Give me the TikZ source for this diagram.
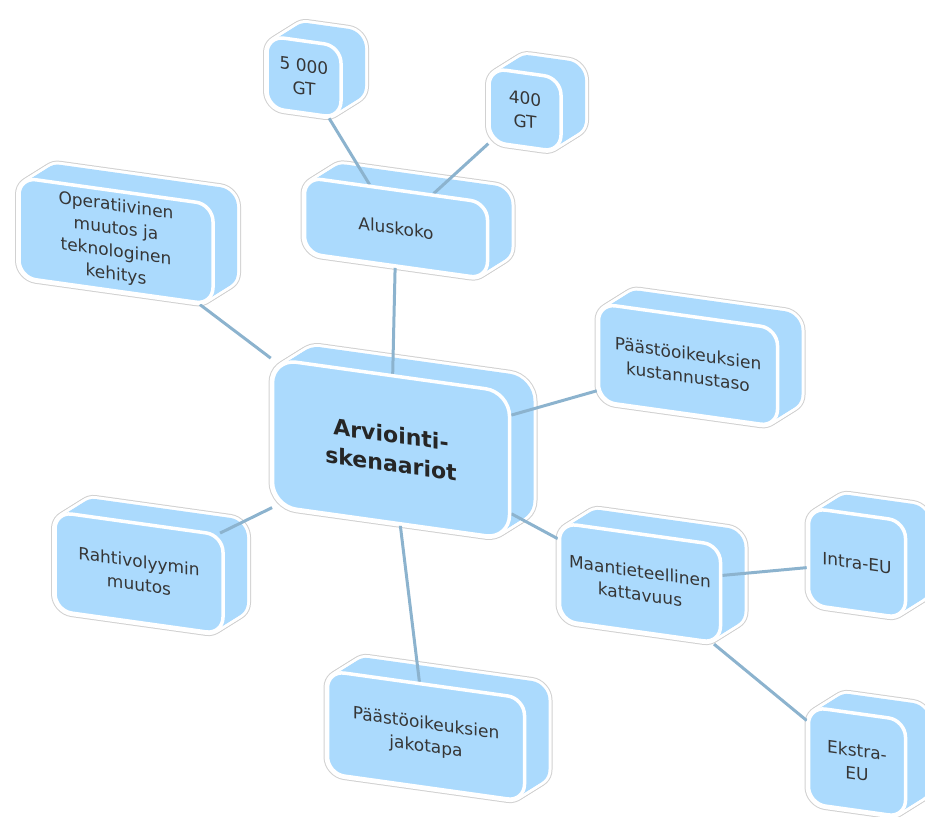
\documentclass[tikz,border=0pt]{standalone}
\usepackage{fontspec}
\setmainfont{DejaVu Sans}
\definecolor{boxblue}{HTML}{ABDAFD}
\definecolor{linkblue}{HTML}{8CB3CE}
\definecolor{labelgray}{HTML}{363636}
\pgfdeclarelayer{ext}
\pgfdeclarelayer{face}
\pgfsetlayers{ext,main,face}
\tikzset{
 slab/.style={rectangle,rounded corners=17pt,yslant=-0.14,inner sep=0pt},
 face/.style={slab,fill=boxblue,draw=white,line width=3.5pt,align=center,
              text=labelgray,font=\fontsize{17}{23}\selectfont},
 hub/.style={rounded corners=24pt,text=black!85,
             font=\fontsize{22}{29}\selectfont\bfseries},
 link/.style={draw=linkblue,line width=3pt}
}
% extruded box: [extra style] name, x, y, width, height, label
\newcommand\ebox[7][]{%
 \begin{pgfonlayer}{ext}
  \foreach \k in {0,...,12}
   \node[slab,#1,draw=black!18,line width=8pt,minimum width=#5pt,minimum height=#6pt]
    at ({#3+2*\k},{#4-1.25*\k}) {};
  \foreach \k in {0,...,12}
   \node[slab,#1,draw=white,line width=6pt,minimum width=#5pt,minimum height=#6pt]
    at ({#3+2*\k},{#4-1.25*\k}) {};
  \foreach \k in {0,...,12}
   \node[slab,#1,fill=boxblue,minimum width=#5pt,minimum height=#6pt]
    at ({#3+2*\k},{#4-1.25*\k}) {};
 \end{pgfonlayer}
 \begin{pgfonlayer}{face}
  \node[face,#1,minimum width=#5pt,minimum height=#6pt] (#2) at (#3,#4) {#7};
 \end{pgfonlayer}
}
\begin{document}
\begin{tikzpicture}[x=1pt,y=-1pt]
 \useasboundingbox (0,0) rectangle (925,816);
 \ebox[hub]{hub}{391}{449}{237}{147}{Arviointi-\\skenaariot}
 \ebox{alus}{396}{228}{183}{76}{Aluskoko}
 \ebox{gtbig}{304}{77}{74}{72}{5 000\\GT}
 \ebox{gtsmall}{525}{110}{72}{74}{400\\GT}
 \ebox{oper}{116}{241}{194}{100}{Operatiivinen\\muutos ja\\teknologinen\\kehitys}
 \ebox{kust}{688}{365}{179}{98}{Päästöoikeuksien\\kustannustaso}
 \ebox{raht}{139}{573}{168}{99}{Rahtivolyymin\\muutos}
 \ebox{maan}{640}{583}{161}{98}{Maantieteellinen\\kattavuus}
 \ebox{jako}{426}{736}{197}{103}{Päästöoikeuksien\\jakotapa}
 \ebox{intra}{857}{563}{97}{97}{Intra-EU}
 \ebox{ekstra}{857}{762}{97}{97}{Ekstra-\\EU}
 \foreach \a/\b in {alus/hub,alus/gtbig,alus/gtsmall,oper/hub,kust/hub,
                    raht/hub,jako/hub,maan/hub,maan/intra,maan/ekstra}
  \draw[link] (\a) -- (\b);
\end{tikzpicture}
\end{document}
